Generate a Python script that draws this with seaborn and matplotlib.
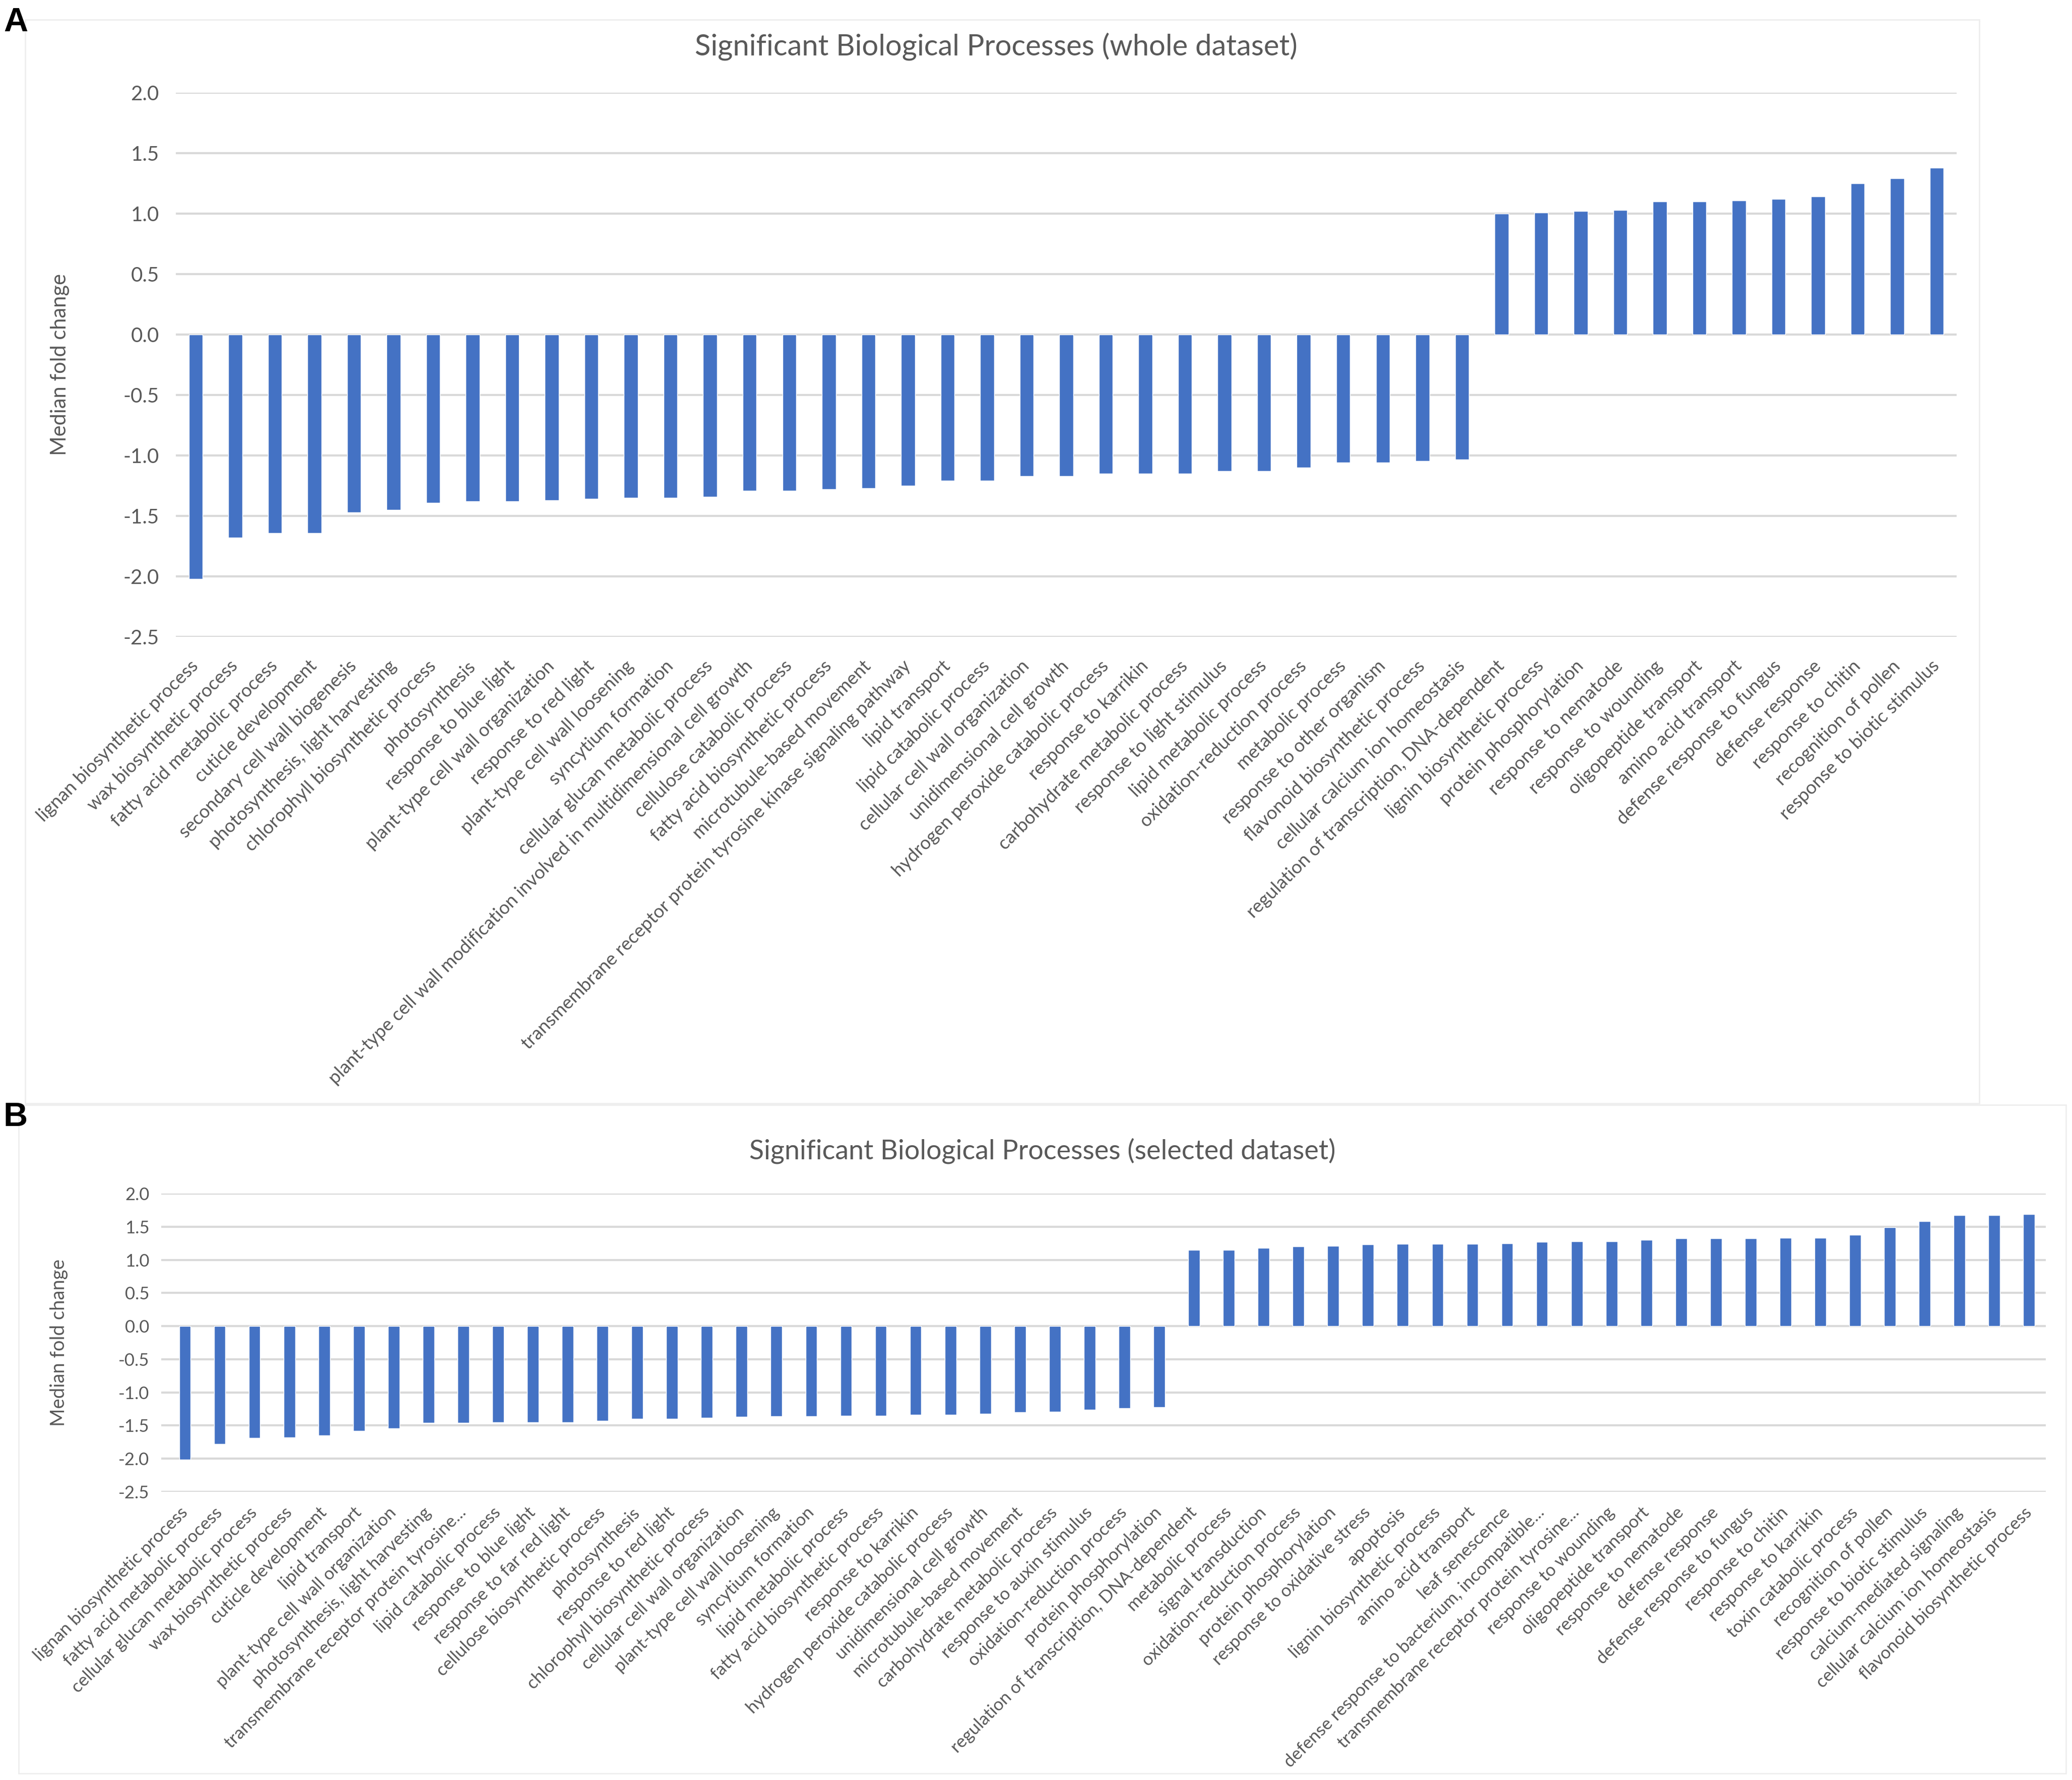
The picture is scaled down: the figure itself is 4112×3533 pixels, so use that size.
import matplotlib
matplotlib.use("Agg")
import matplotlib.pyplot as plt
from matplotlib.patches import Rectangle
import seaborn as sns
import pandas as pd

# ---------------- data ----------------
whole_processes = [
    "lignan biosynthetic process", "wax biosynthetic process", "fatty acid metabolic process",
    "cuticle development", "secondary cell wall biogenesis", "photosynthesis, light harvesting",
    "chlorophyll biosynthetic process", "photosynthesis", "response to blue light",
    "plant-type cell wall organization", "response to red light", "plant-type cell wall loosening",
    "syncytium formation", "cellular glucan metabolic process",
    "plant-type cell wall modification involved in multidimensional cell growth",
    "cellulose catabolic process", "fatty acid biosynthetic process", "microtubule-based movement",
    "transmembrane receptor protein tyrosine kinase signaling pathway", "lipid transport",
    "lipid catabolic process", "cellular cell wall organization", "unidimensional cell growth",
    "hydrogen peroxide catabolic process", "response to karrikin", "carbohydrate metabolic process",
    "response to light stimulus", "lipid metabolic process", "oxidation-reduction process",
    "metabolic process", "response to other organism", "flavonoid biosynthetic process",
    "cellular calcium ion homeostasis", "regulation of transcription, DNA-dependent",
    "lignin biosynthetic process", "protein phosphorylation", "response to nematode",
    "response to wounding", "oligopeptide transport", "amino acid transport",
    "defense response to fungus", "defense response", "response to chitin",
    "recognition of pollen", "response to biotic stimulus",
]
whole_fold = [
    -2.02, -1.68, -1.64, -1.64, -1.47, -1.45, -1.39, -1.38, -1.38, -1.37, -1.36, -1.35,
    -1.35, -1.34, -1.29, -1.29, -1.28, -1.27, -1.25, -1.21, -1.21, -1.17, -1.17, -1.15,
    -1.15, -1.15, -1.13, -1.13, -1.10, -1.06, -1.06, -1.045, -1.035,
    1.00, 1.01, 1.02, 1.03, 1.10, 1.10, 1.11, 1.12, 1.14, 1.25, 1.29, 1.38,
]

selected_processes = [
    "lignan biosynthetic process", "fatty acid metabolic process", "cellular glucan metabolic process",
    "wax biosynthetic process", "cuticle development", "lipid transport",
    "plant-type cell wall organization", "photosynthesis, light harvesting",
    "transmembrane receptor protein tyrosine...", "lipid catabolic process", "response to blue light",
    "response to far red light", "cellulose biosynthetic process", "photosynthesis",
    "response to red light", "chlorophyll biosynthetic process", "cellular cell wall organization",
    "plant-type cell wall loosening", "syncytium formation", "lipid metabolic process",
    "fatty acid biosynthetic process", "response to karrikin", "hydrogen peroxide catabolic process",
    "unidimensional cell growth", "microtubule-based movement", "carbohydrate metabolic process",
    "response to auxin stimulus", "oxidation-reduction process", "protein phosphorylation",
    "regulation of transcription, DNA-dependent", "metabolic process", "signal transduction",
    "oxidation-reduction process", "protein phosphorylation", "response to oxidative stress",
    "apoptosis", "lignin biosynthetic process", "amino acid transport", "leaf senescence",
    "defense response to bacterium, incompatible...", "transmembrane receptor protein tyrosine...",
    "response to wounding", "oligopeptide transport", "response to nematode", "defense response",
    "defense response to fungus", "response to chitin", "response to karrikin",
    "toxin catabolic process", "recognition of pollen", "response to biotic stimulus",
    "calcium-mediated signaling", "cellular calcium ion homeostasis", "flavonoid biosynthetic process",
]
selected_fold = [
    -2.01, -1.78, -1.69, -1.68, -1.65, -1.58, -1.54, -1.46, -1.46, -1.45, -1.45, -1.45,
    -1.43, -1.40, -1.40, -1.38, -1.37, -1.36, -1.36, -1.35, -1.35, -1.34, -1.34, -1.32,
    -1.30, -1.29, -1.26, -1.24, -1.22,
    1.15, 1.15, 1.18, 1.20, 1.21, 1.23, 1.24, 1.24, 1.24, 1.25, 1.27, 1.28, 1.28, 1.30,
    1.32, 1.32, 1.32, 1.33, 1.33, 1.38, 1.49, 1.58, 1.67, 1.67, 1.69,
]

y_ticks = [-2.5, -2.0, -1.5, -1.0, -0.5, 0.0, 0.5, 1.0, 1.5, 2.0]
title_a = "Significant Biological Processes (whole dataset)"
title_b = "Significant Biological Processes (selected dataset)"
y_label = "Median fold change"

# ---------------- style ----------------
sns.set_theme(style="white")
plt.rcParams["font.family"] = ["Lato", "DejaVu Sans"]
plt.rcParams["axes.unicode_minus"] = False

BAR = "#4472C4"
GRID = "#d9d9d9"
TXT = "#595959"

W, H = 4112, 3533
fig = plt.figure(figsize=(W / 100, H / 100), dpi=100)
fig.patch.set_facecolor("white")

# chart-area frames
fig.add_artist(Rectangle((50 / W, 1 - 2190 / H), (3928 - 50) / W, (2190 - 39) / H,
                         transform=fig.transFigure, fill=False, ec="#eeeeee", lw=2))
fig.add_artist(Rectangle((37 / W, 1 - 3520 / H), (4100 - 37) / W, (3520 - 2193) / H,
                         transform=fig.transFigure, fill=False, ec="#eeeeee", lw=2))


def panel(rect, names, vals, width, tick_fs, xl_fs, yl_fs, tick_pad, ylab_x, xpad, xlim):
    ax = fig.add_axes(rect)
    df = pd.DataFrame({"idx": list(range(len(names))), "fold": vals})
    sns.barplot(data=df, x="idx", y="fold", color=BAR, saturation=1, width=width,
                ax=ax, zorder=3)
    ax.set_ylim(-2.5, 2.0)
    ax.set_xlim(*xlim)
    ax.set_yticks(y_ticks)
    ax.set_yticklabels([f"{t:.1f}" for t in y_ticks])
    ax.yaxis.grid(True, color=GRID, lw=3, zorder=0)
    ax.set_axisbelow(True)
    for s in ax.spines.values():
        s.set_visible(False)
    ax.tick_params(axis="y", length=0, pad=tick_pad, labelsize=tick_fs, labelcolor=TXT)
    ax.tick_params(axis="x", length=0, pad=xpad, labelsize=xl_fs, labelcolor=TXT)
    ax.set_xticks(range(len(names)))
    ax.set_xticklabels(names, rotation=45, ha="right", va="center", rotation_mode="anchor")
    ax.set_xlabel("")
    ax.set_ylabel(y_label, fontsize=yl_fs, color=TXT)
    ax.yaxis.set_label_coords(ylab_x, 0.5)
    return ax


axA = panel([349 / W, 1 - 1264 / H, (3883 - 349) / W, (1264 - 184) / H],
            whole_processes, whole_fold, 0.35, 29, 26.5, 30, 24, -0.0597, 38,
            (-0.5, len(whole_processes) - 0.5))
axB = panel([320 / W, 1 - 2961 / H, (4060 - 320) / W, (2961 - 2369) / H],
            selected_processes, selected_fold, 0.33, 25, 25.2, 27.5, 17, -0.0494, 26,
            (-0.68, len(selected_processes) - 0.52))

fig.text(1977 / W, 1 - 92 / H, title_a, ha="center", va="center", fontsize=41.8, color=TXT)
fig.text(2069 / W, 1 - 2284 / H, title_b, ha="center", va="center", fontsize=38.8, color=TXT)

fig.text(31 / W, 1 - 45 / H, "A", ha="center", va="center", fontsize=48,
         fontweight="bold", color="black", family=["Liberation Sans", "DejaVu Sans"])
fig.text(31 / W, 1 - 2218 / H, "B", ha="center", va="center", fontsize=48,
         fontweight="bold", color="black", family=["Liberation Sans", "DejaVu Sans"])

fig.savefig("out.png", dpi=100, facecolor="white")
